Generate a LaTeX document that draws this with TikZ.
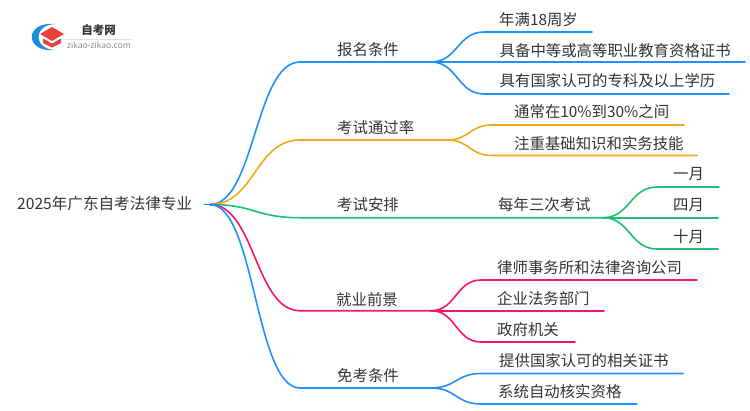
\documentclass[tikz,border=0pt]{standalone}
\usepackage{fontspec}
\setmainfont{Noto Sans CJK SC}
\newfontfamily\latinf{Open Sans}
\usetikzlibrary{calc}
\definecolor{cblue}{HTML}{1E90FF}
\definecolor{corange}{HTML}{F5A81C}
\definecolor{cgreen}{HTML}{1DBF73}
\definecolor{cred}{HTML}{F5156E}
\definecolor{ctext}{HTML}{333333}
\definecolor{lblue}{HTML}{1C8FD6}
\definecolor{lred}{HTML}{E8403A}
\tikzset{
  lab/.style={text=ctext,font=\fontsize{15.4pt}{16pt}\selectfont,inner sep=0pt,anchor=west},
  wire/.style={line width=1.6pt,line cap=round}
}
\begin{document}
\begin{tikzpicture}[x=1pt,y=-1pt]
\useasboundingbox (0,0) rectangle (750,410);
% logo
\fill[lblue] (55,24) .. controls (24,21) and (24,53) .. (55,50) .. controls (33,49) and (33,25) .. (55,24) -- cycle;
\fill[lred] (52,27) -- (64,34) -- (52,41) -- (40,34) -- cycle;
\fill[lred] (43,38.5) -- (52,43.5) -- (61,38.5) -- (61,43) -- (52,47.5) -- (43,43) -- cycle;
\node[text=ctext,font=\fontsize{11.5pt}{12pt}\bfseries\selectfont,inner sep=0pt] (logot) at (98.5,30.5) {自考网};
\draw[black!12,line width=.6pt] (65,39) -- (131,39);
\node[text=black!50,font=\latinf\fontsize{8.6pt}{9pt}\selectfont,inner sep=0pt] (logos) at (99,45) {zikao-zikao.com};
% anchors
\coordinate (root) at (204,204.5);
\coordinate (rootb) at (210,204.5);
\coordinate (a1) at (300,62); \coordinate (a1e) at (431,62);
\coordinate (a2) at (300,140); \coordinate (a2e) at (447,140);
\coordinate (a3) at (300,217.7); \coordinate (a3e) at (603,217.7);
\coordinate (a4) at (300,310.7); \coordinate (a4e) at (431,310.7);
\coordinate (a5) at (300,388); \coordinate (a5e) at (431,388);
\coordinate (b1) at (484,32); \coordinate (b1e) at (592,32);
\coordinate (b2) at (484,62); \coordinate (b2e) at (745,62);
\coordinate (b3) at (484,94); \coordinate (b3e) at (729,94);
\coordinate (c1) at (492,125); \coordinate (c1e) at (684,125);
\coordinate (c2) at (492,155.5); \coordinate (c2e) at (697,155.5);
\coordinate (d1) at (657,187); \coordinate (d1e) at (719,187);
\coordinate (d2) at (657,217.7); \coordinate (d2e) at (718,217.7);
\coordinate (d3) at (657,249); \coordinate (d3e) at (718,249);
\coordinate (e1) at (481,280); \coordinate (e1e) at (697,280);
\coordinate (e2) at (481,310.7); \coordinate (e2e) at (604,310.7);
\coordinate (e3) at (481,342); \coordinate (e3e) at (575,342);
\coordinate (f1) at (481,373.5); \coordinate (f1e) at (683,373.5);
\coordinate (f2) at (481,404); \coordinate (f2e) at (637,404);
% connectors
\foreach \col/\s/\t/\te in {cblue/rootb/a1/a1e,corange/rootb/a2/a2e,cgreen/rootb/a3/a3e,cred/rootb/a4/a4e,cblue/rootb/a5/a5e,
  cblue/a1e/b1/b1e,cblue/a1e/b2/b2e,cblue/a1e/b3/b3e,
  corange/a2e/c1/c1e,corange/a2e/c2/c2e,
  cgreen/a3e/d1/d1e,cgreen/a3e/d2/d2e,cgreen/a3e/d3/d3e,
  cred/a4e/e1/e1e,cred/a4e/e2/e2e,cred/a4e/e3/e3e,
  cblue/a5e/f1/f1e,cblue/a5e/f2/f2e}{
  \draw[wire,\col] (\s) .. controls ($(\s)!0.5!(\s-|\t)$) and ($(\t)!0.5!(\s|-\t)$) .. (\t) -- (\te);
}
\draw[wire,cblue] (root) -- (rootb);
% labels
\node[lab,font=\fontsize{15.6pt}{16pt}\selectfont] (rootl) at (17,204) {2025年广东自考法律专业};
\node[lab] (t1) at (337,50) {报名条件};
\node[lab] (t2) at (337,127.5) {考试通过率};
\node[lab] (t3) at (337,205) {考试安排};
\node[lab] (t4) at (336,299.5) {就业前景};
\node[lab] (t5) at (337,376) {免考条件};
\node[lab] (u1) at (499,19.5) {年满18周岁};
\node[lab] (u2) at (499.5,51) {具备中等或高等职业教育资格证书};
\node[lab] (u3) at (499.5,81) {具有国家认可的专科及以上学历};
\node[lab] (v1) at (514,112) {通常在10\%到30\%之间};
\node[lab] (v2) at (514,143.5) {注重基础知识和实务技能};
\node[lab] (w0) at (498,205) {每年三次考试};
\node[lab] (w1) at (673,174.5) {一月};
\node[lab] (w2) at (673,205.5) {四月};
\node[lab] (w3) at (673,237) {十月};
\node[lab] (x1) at (497,268) {律师事务所和法律咨询公司};
\node[lab] (x2) at (497,299) {企业法务部门};
\node[lab] (x3) at (497,330) {政府机关};
\node[lab] (y1) at (499,361) {提供国家认可的相关证书};
\node[lab] (y2) at (498,392) {系统自动核实资格};
\end{tikzpicture}
\end{document}
